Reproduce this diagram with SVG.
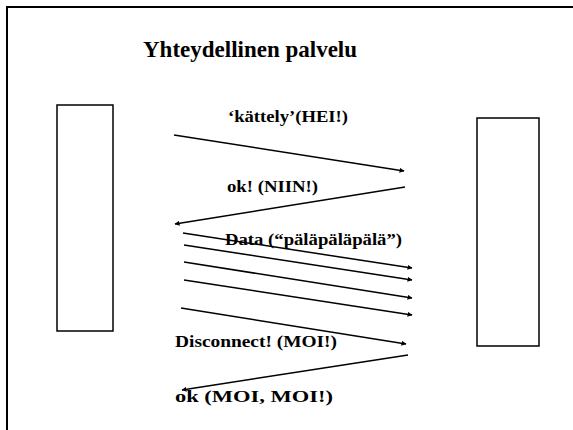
<svg xmlns="http://www.w3.org/2000/svg" width="573" height="430" viewBox="0 0 573 430">
<style>
text{font-family:"Liberation Serif","Times New Roman",serif;font-weight:bold;fill:#000}
.t{font-size:23px}
.l{font-size:17.5px}
.box{fill:#fff;stroke:#000;stroke-width:1.5}
.c line{stroke:#000;stroke-width:1.5;fill:none}
</style>
<defs>
<marker id="ah" viewBox="0 0 10 10" refX="9" refY="5" markerWidth="5" markerHeight="5" orient="auto" markerUnits="userSpaceOnUse">
<path d="M0,0 L10,5 L0,10 z" fill="#000"/>
</marker>
</defs>
<rect width="573" height="430" fill="#fff"/>
<path d="M7,430 V7 H573" fill="none" stroke="#000" stroke-width="2"/>
<text class="t" x="143" y="57">Yhteydellinen palvelu</text>
<g id="left"><rect class="box" x="57" y="105" width="56" height="226"/></g>
<g id="right"><rect class="box" x="477" y="118" width="62" height="228"/></g>
<g class="c" id="connectors">
<line x1="174" y1="135" x2="404" y2="171" marker-end="url(#ah)"/>
<line x1="405" y1="187" x2="175" y2="224" marker-end="url(#ah)"/>
<line x1="183" y1="233" x2="412" y2="268" marker-end="url(#ah)"/>
<line x1="184" y1="245" x2="412" y2="280" marker-end="url(#ah)"/>
<line x1="184" y1="262" x2="412" y2="298" marker-end="url(#ah)"/>
<line x1="184" y1="280" x2="412" y2="315" marker-end="url(#ah)"/>
<line x1="181" y1="308" x2="406" y2="344" marker-end="url(#ah)"/>
<line x1="408" y1="355" x2="182" y2="390" marker-end="url(#ah)"/>
</g>
<text class="l" x="228" y="122" textLength="120" lengthAdjust="spacingAndGlyphs">‘kättely’(HEI!)</text>
<text class="l" x="227" y="192" textLength="91" lengthAdjust="spacingAndGlyphs">ok! (NIIN!)</text>
<text class="l" x="225" y="245" textLength="177" lengthAdjust="spacingAndGlyphs">Data (“päläpäläpälä”)</text>
<text class="l" x="175" y="347" textLength="162" lengthAdjust="spacingAndGlyphs">Disconnect! (MOI!)</text>
<text class="l" x="175" y="402" textLength="158" lengthAdjust="spacingAndGlyphs">ok (MOI, MOI!)</text>
</svg>
